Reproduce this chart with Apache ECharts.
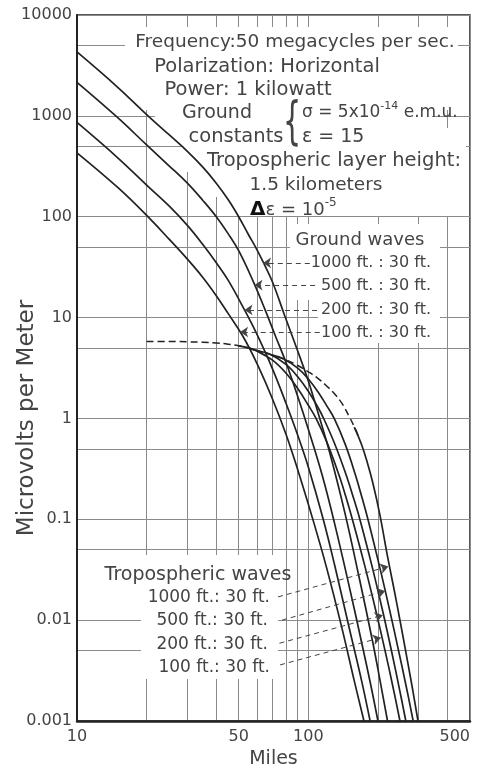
<!DOCTYPE html>
<html><head><meta charset="utf-8">
<script src="https://cdn.jsdelivr.net/npm/echarts@6/dist/echarts.min.js"></script>
<style>html,body{margin:0;padding:0;background:#fff}#c{width:478px;height:769px}</style>
</head><body><div id="c"></div>
<script>
// axis ticks / labels
const xTickValues = [10,20,30,40,50,60,70,80,90,100,200,300,400,500];
const xLabelValues = [10,50,100,500];
const yTickValues = [0.001,0.005,0.01,0.05,0.1,0.5,1,5,10,50,100,500,1000,5000,10000];
const yLabelValues = [0.001,0.01,0.1,1,10,100,1000,10000];

// Ground waves [miles, microvolts per meter]
const ground1000 = [[10,4300],[15,1920],[20,1030],[25,650],[30,445],[35,310],[40,215],[45,148],[50,100],[55,67],[60,47],[64,35],[70,22.5],[79,10.5],[89,5],[100,2.35],[110,1.15],[125,0.42],[144,0.115],[165,0.028],[190,0.006],[205,0.0024],[220,0.001]];
const ground500 = [[10,2150],[15,960],[20,515],[25,320],[30,215],[35,145],[40,100],[45,68],[50,46],[57.7,23],[65,12],[72,6.6],[80,3.6],[90,1.65],[100,0.78],[115,0.27],[130,0.09],[150,0.022],[170,0.006],[186,0.0023],[200,0.001]];
const ground200 = [[10,860],[15,384],[20,206],[25,128],[30,82],[35,53],[40,35],[45,23.5],[53,11.9],[60,6.8],[70,3.1],[80,1.42],[90,0.68],[100,0.33],[116,0.1],[130,0.035],[150,0.0085],[170,0.0025],[185,0.001]];
const ground100 = [[10,430],[15,195],[20,103],[25,60],[30,38],[35,25],[40,16.5],[45,11],[52,6.6],[60,3.5],[70,1.56],[80,0.7],[90,0.31],[105,0.097],[120,0.033],[140,0.0082],[158,0.0025],[174,0.001]];

// Tropospheric waves
const tropoEnvelope = [[20,5.8],[25,5.8],[30,5.75],[35,5.7],[40,5.6],[45,5.45],[50,5.25],[55,5.0],[60,4.7],[70,4.25],[80,3.8],[90,3.35],[100,2.9],[110,2.5],[120,2.1],[130,1.75],[140,1.4],[150,1.05],[160,0.78],[165,0.655]];
const tropo100 = [[50,5.25],[55,5.0],[60,4.65],[70,3.78],[80,2.82],[90,1.98],[100,1.35],[108,1.0],[120,0.588],[135,0.284],[145,0.17],[155,0.1],[175,0.0353],[195,0.0129],[215,0.0049],[232,0.0022],[249,0.001]];
const tropo200 = [[55,5.0],[60,4.7],[68,4.35],[80,3.43],[90,2.59],[100,1.86],[110,1.29],[116,1.02],[130,0.561],[145,0.284],[155,0.177],[167,0.1],[190,0.0319],[210,0.0121],[230,0.0047],[248,0.00205],[264,0.001]];
const tropo500 = [[70,4.25],[78,3.9],[90,3.15],[100,2.46],[110,1.84],[120,1.34],[130,0.98],[145,0.54],[160,0.273],[170,0.169],[181,0.1],[205,0.0313],[225,0.0124],[245,0.0051],[265,0.0022],[284,0.001]];
const tropo1000 = [[158,0.82],[170,0.548],[180,0.364],[190,0.23],[204,0.11],[220,0.0428],[235,0.02],[250,0.0095],[265,0.0046],[280,0.0023],[298,0.001]];

// leader arrows (tail -> tip) in data units
const groundArrowY = [34.8, 21, 11.9, 7.2];
const groundArrowTail = [101.5, 107, 109, 112];
const groundArrowTip = [63.7, 58.5, 53, 50.7];
const tropoArrowTail = [[74,0.017],[77,0.010],[75,0.0059],[75.5,0.0036]];
const tropoArrowTip = [[222,0.034],[215,0.0195],[210,0.0112],[206,0.0067]];

const groundLabels = ['1000 ft. : 30 ft.','500 ft. : 30 ft.','200 ft. : 30 ft.','100 ft. : 30 ft.'];
const tropoLabels = ['1000 ft.: 30 ft.','500 ft.: 30 ft.','200 ft.: 30 ft.','100 ft.: 30 ft.'];

const FONT = 'DejaVu Sans';
const INK = '#222';
const TXT = '#444';

function arrowML(tail, tip) {
  return {
    silent: true, symbol: ['none','arrow'], symbolSize: 8, precision: 6,
    lineStyle: {type: [5,4], color: '#444', width: 1},
    label: {show: false}, emphasis: {disabled: true},
    data: [[{coord: tail}, {coord: tip}]]
  };
}

const groundSets = [ground1000, ground500, ground200, ground100];
const tropoSets = [tropo1000, tropo500, tropo200, tropo100];
const series = [];
groundSets.forEach((d, i) => {
  series.push({
    type: 'line', data: d, showSymbol: false, smooth: 0.4,
    lineStyle: {color: INK, width: 1.7}, z: 3, silent: true,
    markLine: arrowML([groundArrowTail[i], groundArrowY[i]], [groundArrowTip[i], groundArrowY[i]])
  });
});
tropoSets.forEach((d, i) => {
  series.push({
    type: 'line', data: d, showSymbol: false, smooth: 0.4,
    lineStyle: {color: INK, width: 1.7}, z: 3, silent: true,
    markLine: arrowML(tropoArrowTail[i], tropoArrowTip[i])
  });
});
series.push({
  type: 'line', data: tropoEnvelope, showSymbol: false, smooth: 0.4,
  lineStyle: {color: INK, width: 1.5, type: [7,4]}, z: 3, silent: true
});

function txt(text, x, y, size, align, extra) {
  return Object.assign({
    type: 'text', x: x, y: y, z: 5, silent: true,
    style: {text: text, fontFamily: FONT, fontSize: size, fill: TXT,
            align: align || 'left', verticalAlign: 'middle',
            textAlign: align || 'left', textVerticalAlign: 'middle'}
  }, extra || {});
}
function mask(x, y, w, h) {
  return {type: 'rect', z: 1, silent: true, shape: {x: x, y: y, width: w, height: h}, style: {fill: '#fff'}};
}

const graphics = [
  mask(125, 27, 333, 83),
  mask(155, 105, 277, 25),
  mask(183, 128, 283, 44),
  mask(212, 170, 254, 27),
  mask(233, 195, 233, 21),
  mask(290, 224, 150, 76),
  mask(318, 300, 122, 43),
  mask(97, 555, 181, 33),
  mask(141, 586, 137, 93),
  txt('Frequency:50 megacycles per sec.', 295, 42, 18.5, 'center'),
  txt('Polarization: Horizontal', 267, 67, 19.5, 'center'),
  txt('Power: 1 kilowatt', 248, 90, 19.5, 'center'),
  txt('Ground', 217, 113, 19, 'center'),
  txt('constants', 236, 137, 19.5, 'center'),
  {type: 'text', x: 292, y: 124, z: 5, silent: true, scaleX: 0.55,
   style: {text: '{', fontFamily: FONT, fontSize: 52, fill: TXT, align: 'center', verticalAlign: 'middle', textAlign: 'center', textVerticalAlign: 'middle'}},
  {type: 'text', x: 302, y: 113, z: 5, silent: true,
   style: {text: '{a|σ = 5x10}{b|-14}{a| e.m.u.}', fontFamily: FONT, fontSize: 17, fill: TXT,
           align: 'left', verticalAlign: 'middle', textAlign: 'left', textVerticalAlign: 'middle',
           rich: {a: {fontFamily: FONT, fontSize: 17, fill: TXT, color: TXT},
                  b: {fontFamily: FONT, fontSize: 11, fill: TXT, color: TXT, padding: [0,0,14,0]}}}},
  txt('ε = 15', 302, 137, 19, 'left'),
  txt('Tropospheric layer height:', 334, 161, 19.5, 'center'),
  txt('1.5 kilometers', 316, 185, 18.5, 'center'),
  {type: 'text', x: 250, y: 210, z: 5, silent: true,
   style: {text: '{c|Δ}{a|ε = 10}{b|-5}', fontFamily: FONT, fontSize: 18, fill: TXT,
           align: 'left', verticalAlign: 'middle', textAlign: 'left', textVerticalAlign: 'middle',
           rich: {c: {fontFamily: FONT, fontSize: 20, fontWeight: 'bold', fill: '#111', color: '#111'},
                  a: {fontFamily: FONT, fontSize: 18, fill: TXT, color: TXT},
                  b: {fontFamily: FONT, fontSize: 12, fill: TXT, color: TXT, padding: [0,0,14,0]}}}},
  txt('Ground waves', 360, 240, 18, 'center'),
  txt(groundLabels[0], 431, 263, 16, 'right'),
  txt(groundLabels[1], 431, 286, 16, 'right'),
  txt(groundLabels[2], 431, 310, 16, 'right'),
  txt(groundLabels[3], 431, 333, 16, 'right'),
  txt('Tropospheric waves', 198, 575, 19, 'center'),
  txt(tropoLabels[0], 270, 598, 17, 'right'),
  txt(tropoLabels[1], 268, 621, 17, 'right'),
  txt(tropoLabels[2], 268, 645, 17, 'right'),
  txt(tropoLabels[3], 270, 668, 17, 'right'),
  txt('Microvolts per Meter', 27, 418, 23, 'center', {rotation: Math.PI / 2})
];

const chart = echarts.init(document.getElementById('c'), null, {renderer: 'canvas'});
chart.setOption({
  animation: false,
  backgroundColor: '#fff',
  grid: {left: 77, right: 8, top: 15, bottom: 48, show: true, borderColor: '#222', borderWidth: 1.5, outerBoundsMode: 'none', containLabel: false},
  xAxis: {
    type: 'log', logBase: 10, min: 10, max: 500,
    name: 'Miles', nameLocation: 'middle', nameGap: 27,
    nameTextStyle: {fontFamily: FONT, fontSize: 19, color: TXT},
    axisLine: {show: true, onZero: false, lineStyle: {color: '#222', width: 2.5}},
    axisTick: {show: false, customValues: xTickValues},
    axisLabel: {customValues: xLabelValues, fontFamily: FONT, fontSize: 16, color: TXT, margin: 8,
                alignMaxLabel: 'right', formatter: v => String(v)},
    splitLine: {show: true, lineStyle: {color: '#8a8a8a', width: 1}},
    minorTick: {show: false}, minorSplitLine: {show: false}
  },
  yAxis: {
    type: 'log', logBase: 10, min: 0.001, max: 10000,
    axisLine: {show: true, onZero: false, lineStyle: {color: '#222', width: 2}},
    axisTick: {show: false, customValues: yTickValues},
    axisLabel: {customValues: yLabelValues, fontFamily: FONT, fontSize: 16, color: TXT, margin: 5,
                formatter: v => String(v)},
    splitLine: {show: true, lineStyle: {color: '#8a8a8a', width: 1}},
    minorTick: {show: false}, minorSplitLine: {show: false}
  },
  graphic: {elements: graphics},
  series: series
});
</script></body></html>
